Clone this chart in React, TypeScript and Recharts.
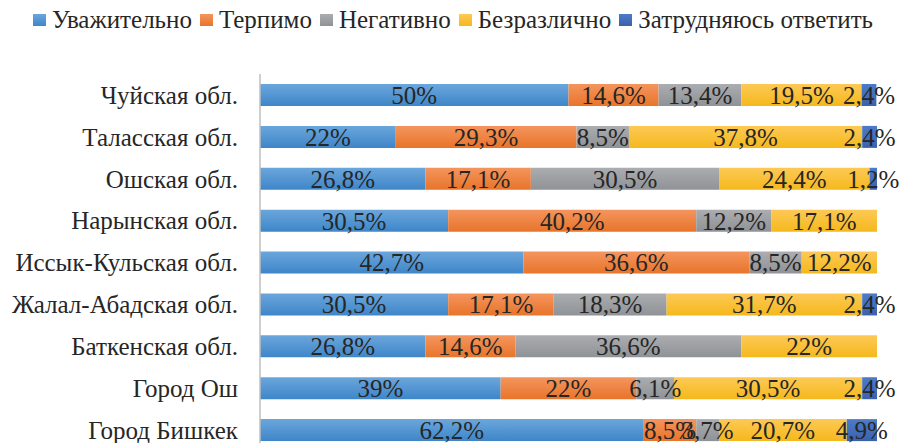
import React from "react";
import {
  BarChart,
  Bar,
  XAxis,
  YAxis,
  Legend,
  LabelList,
} from "recharts";

const regions = [
  "Чуйская обл.",
  "Таласская обл.",
  "Ошская обл.",
  "Нарынская обл.",
  "Иссык-Кульская обл.",
  "Жалал-Абадская обл.",
  "Баткенская обл.",
  "Город Ош",
  "Город Бишкек",
];

const respectful = [50, 22, 26.8, 30.5, 42.7, 30.5, 26.8, 39, 62.2];
const tolerant = [14.6, 29.3, 17.1, 40.2, 36.6, 17.1, 14.6, 22, 8.5];
const negative = [13.4, 8.5, 30.5, 12.2, 8.5, 18.3, 36.6, 6.1, 3.7];
const indifferent = [19.5, 37.8, 24.4, 17.1, 12.2, 31.7, 22, 30.5, 20.7];
const undecided = [2.4, 2.4, 1.2, null, null, 2.4, null, 2.4, 4.9];

const series = [
  { key: "respectful", name: "Уважительно", values: respectful, top: "#6ba6dc", bottom: "#3e86c9" },
  { key: "tolerant", name: "Терпимо", values: tolerant, top: "#f4955e", bottom: "#e8742a" },
  { key: "negative", name: "Негативно", values: negative, top: "#abadb0", bottom: "#8f9296" },
  { key: "indifferent", name: "Безразлично", values: indifferent, top: "#fdc956", bottom: "#f5b81c" },
  { key: "undecided", name: "Затрудняюсь ответить", values: undecided, top: "#4c7bc9", bottom: "#3a62ab" },
];

const data = regions.map((region, i) => {
  const row: Record<string, any> = { region };
  series.forEach((s) => {
    row[s.key] = s.values[i];
  });
  return row;
});

const FONT = "'Times New Roman', 'Liberation Serif', 'DejaVu Serif', serif";
const TEXT = "#262626";

const fmt = (v: any) =>
  v === null || v === undefined ? "" : `${String(v).replace(".", ",")}%`;

const LegendContent = () => (
  <div
    style={{
      display: "flex",
      justifyContent: "center",
      fontFamily: FONT,
      fontSize: 25,
      lineHeight: "28px",
      color: TEXT,
      paddingTop: 6,
      marginLeft: 29,
    }}
  >
    {series.map((s, i) => (
      <div
        key={s.key}
        style={{ display: "flex", alignItems: "center", marginLeft: i === 0 ? 0 : 8 }}
      >
        <span
          style={{
            display: "inline-block",
            width: 13,
            height: 12,
            marginRight: 6,
            background: `linear-gradient(${s.top}, ${s.bottom})`,
          }}
        />
        {s.name}
      </div>
    ))}
  </div>
);

export default function App() {
  return (
    <div
      style={{
        position: "absolute",
        top: 0,
        left: 0,
        width: 918,
        height: 443,
        overflow: "hidden",
        background: "#fff",
      }}
    >
      <BarChart
        width={918}
        height={452}
        data={data}
        layout="vertical"
        barSize={22}
        margin={{ top: 0, right: 41, bottom: 1, left: 0 }}
      >
        <defs>
          {series.map((s) => (
            <linearGradient key={s.key} id={`grad-${s.key}`} x1="0" y1="0" x2="0" y2="1">
              <stop offset="0%" stopColor={s.top} />
              <stop offset="100%" stopColor={s.bottom} />
            </linearGradient>
          ))}
        </defs>
        <Legend verticalAlign="top" height={74} content={<LegendContent />} />
        <XAxis type="number" domain={[0, 100]} hide />
        <YAxis
          type="category"
          dataKey="region"
          width={260}
          axisLine={{ stroke: "#bfbfbf", strokeWidth: 1.5 }}
          tickLine={false}
          tickMargin={16}
          tick={{ fill: TEXT, fontFamily: FONT, fontSize: 25 }}
          interval={0}
        />
        {series.map((s) => (
          <Bar
            key={s.key}
            dataKey={s.key}
            name={s.name}
            stackId="a"
            fill={`url(#grad-${s.key})`}
            isAnimationActive={false}
          >
            <LabelList
              dataKey={s.key}
              position="center"
              formatter={fmt}
              fill={TEXT}
              style={{ fontFamily: FONT, fontSize: 25 }}
            />
          </Bar>
        ))}
      </BarChart>
    </div>
  );
}
